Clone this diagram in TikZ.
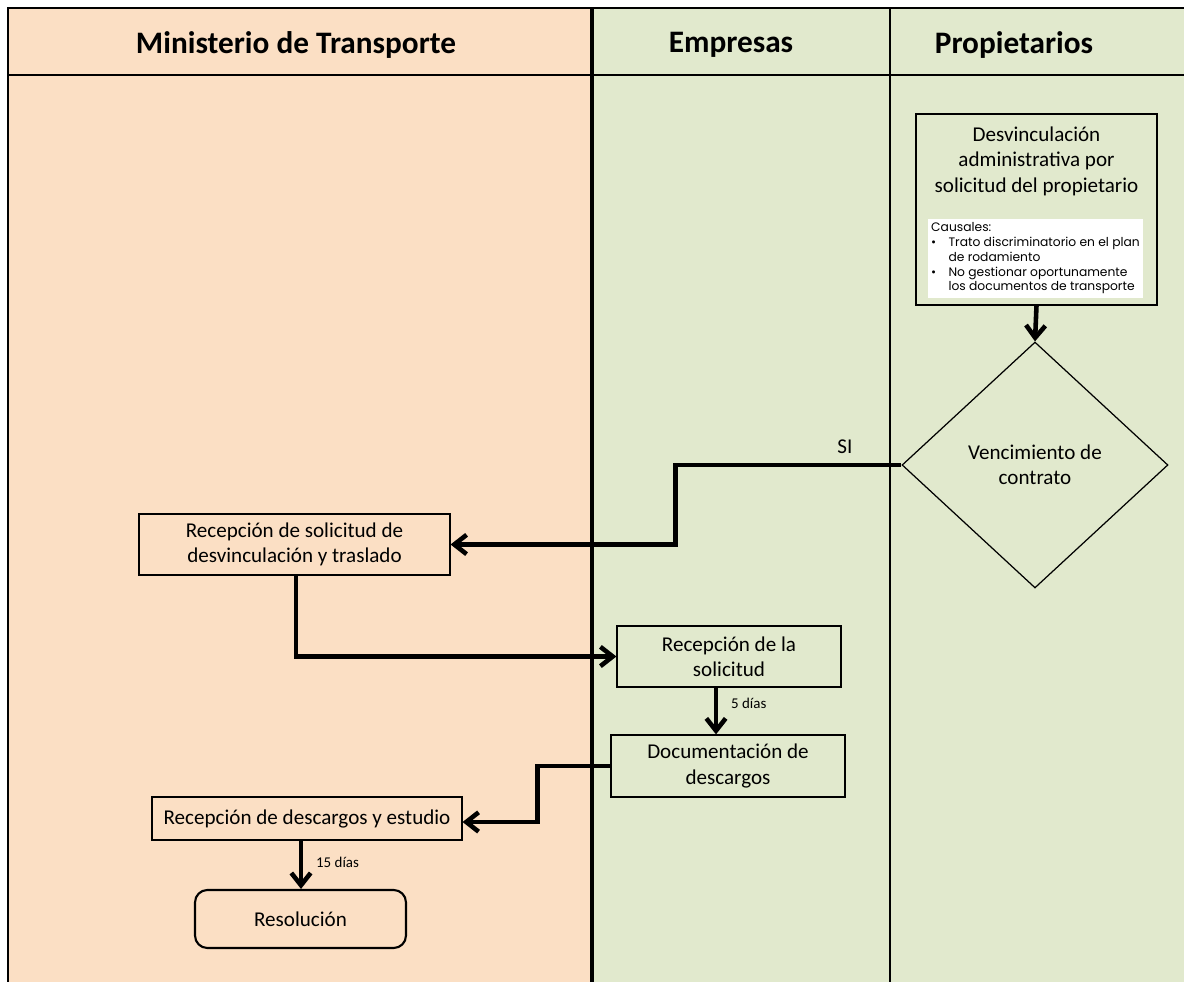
\documentclass[tikz,border=0pt]{standalone}
\usepackage{fontspec}
\setmainfont{Carlito}
\newfontfamily\listfont{Poppins}
\usetikzlibrary{arrows.meta,shapes.geometric}
\definecolor{peach}{HTML}{FBDFC4}
\definecolor{sage}{HTML}{E1E9CD}
\tikzset{
  lane/.style={line width=1.4pt},
  proc/.style={draw,line width=.7pt,align=center,inner sep=0pt,font=\fontsize{12}{14.5}\selectfont},
  flow/.style={line width=2.6pt,-{Straight Barb[length=7pt,width=11pt]}},
  tag/.style={font=\fontsize{8.5}{10}\selectfont},
  head/.style={font=\fontsize{17.8}{22}\selectfont\bfseries}
}
\begin{document}
\begin{tikzpicture}[x=0.02cm,y=-0.02cm,line width=.8pt]
\useasboundingbox (0,0) rectangle (1184,982);
% lanes
\fill[peach] (8,8) rectangle (592,982);
\fill[sage] (592,8) rectangle (1184,982);
\draw[lane] (8,982) -- (8,8) -- (1184,8);
\draw[lane] (8,75) -- (1184,75);
\draw[line width=1.8pt] (592,8) -- (592,982);
\draw[lane] (890,8) -- (890,982);
\node[head] (hmin) at (296,45) {Ministerio de Transporte};
\node[head] (hemp) at (731,45) {Empresas};
\node[head] (hpro) at (1014,45) {Propietarios};
% propietarios
\node[proc,fill=sage,minimum width=4.82cm,minimum height=3.82cm] (desv) at (1036.5,209.5) {};
\node[align=center,font=\fontsize{12}{14.5}\selectfont,anchor=north] (desvtxt) at (1036.5,120)
  {Desvinculación\\administrativa por\\solicitud del propietario};
\node[fill=white,inner sep=1pt,minimum width=4.3cm,minimum height=1.58cm,font=\listfont\fontsize{7}{8.4}\selectfont] (causas) at (1035.5,258.5)
  {\begin{tabular}{@{}l@{\hspace{7pt}}l@{}}
   \multicolumn{2}{@{}l@{}}{Causales:}\\
   \textbullet & Trato discriminatorio en el plan\\
   & de rodamiento\\
   \textbullet & No gestionar oportunamente\\
   & los documentos de transporte
   \end{tabular}};
\node[proc,diamond,aspect=1.08,fill=sage,minimum width=5.32cm,minimum height=4.92cm] (venc) at (1035,465)
  {Vencimiento de\\contrato};
% ministerio / empresas
\node[proc,fill=peach,minimum width=6.22cm,minimum height=1.22cm] (recsol) at (294.5,544.5)
  {Recepción de solicitud de\\desvinculación y traslado};
\node[proc,fill=sage,minimum width=4.48cm,minimum height=1.22cm] (recla) at (729,656.5)
  {Recepción de la\\solicitud};
\node[proc,fill=sage,minimum width=4.68cm,minimum height=1.24cm] (doc) at (728,766)
  {Documentación de\\descargos};
\node[proc,fill=peach,minimum width=6.2cm,minimum height=.86cm] (recdes) at (307,818.5)
  {Recepción de descargos y estudio};
\node[proc,fill=peach,rounded corners=7pt,line width=1.2pt,minimum width=4.22cm,minimum height=1.16cm] (resol) at (300.5,919)
  {Resolución};
% connectors
\draw[flow] (desv.south) -- (venc.north);
\draw[flow] (venc.west) -- ++(-226,0) node[pos=.25,above=2pt,font=\fontsize{12}{14}\selectfont] (si) {SI} |- (recsol.east);
\draw[flow] ([xshift=.03cm]recsol.south) |- (recla.west);
\draw[flow] ([xshift=-.26cm]recla.south) -- ([xshift=-.26cm]recla.south |- doc.north)
  node[tag,pos=.33,right=4pt] (cinco) {5 días};
\draw[flow] (doc.west) -- ++(-73,0) |- ([yshift=-.07cm]recdes.east);
\draw[flow] ([xshift=-.12cm]recdes.south) -- ([xshift=-.12cm]recdes.south |- resol.north)
  node[tag,pos=.45,right=4pt] (quince) {15 días};
\end{tikzpicture}
\end{document}
